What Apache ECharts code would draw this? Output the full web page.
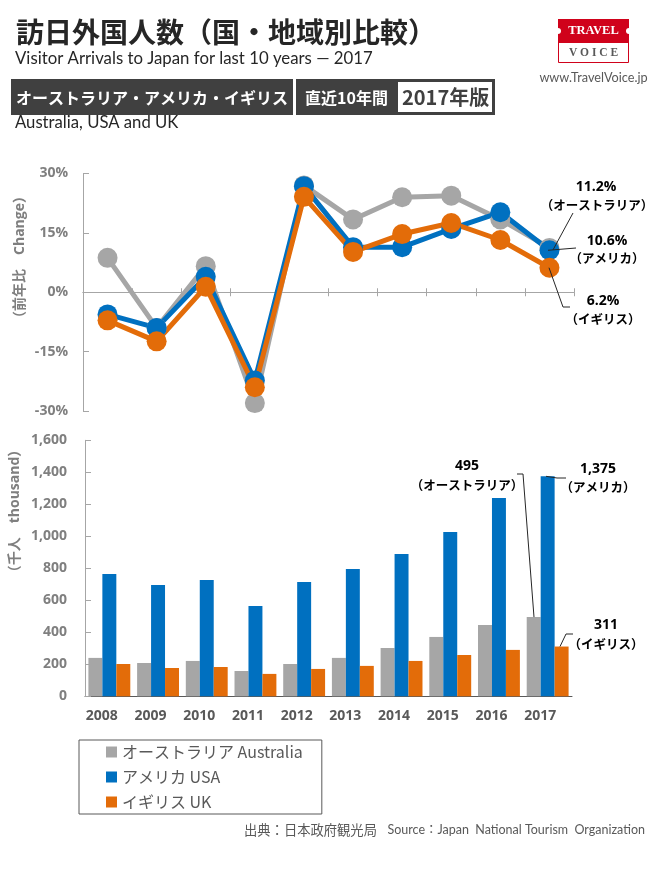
<!DOCTYPE html>
<html>
<head>
<meta charset="utf-8">
<style>
html,body{margin:0;padding:0;background:#fff;}
#main{width:659px;height:870px;}
</style>
<script src="https://cdn.jsdelivr.net/npm/echarts@6/dist/echarts.min.js"></script>
</head>
<body>
<div id="main"></div>
<script>
"use strict";
let years = ["2008","2009","2010","2011","2012","2013","2014","2015","2016","2017"];
let seriesNames = ["オーストラリア Australia","アメリカ USA","イギリス UK"];
/*前年比(%)*/
let changeAustralia = [8.7,-9,6.6,-28,27,18.4,24,24.4,18.4,11.2];
let changeUSA = [-5.6,-9,3.9,-22.3,26.8,11.4,11.4,16,20.2,10.6];
let changeUK = [-7.1,-12.4,1.4,-24,24.1,10.2,14.7,17.5,13.2,6.2];
/*人数(千人)*/
let arrivalsAustralia = [240,208,221,158,202,240,302,371,445,495];
let arrivalsUSA = [765,696,727,565,715,796,890,1027,1240,1375];
let arrivalsUK = [202,177,183,140,171,190,221,258,290,311];

let colors = ["#a6a6a6","#0070c0","#e36c09"];
let cjk = '"Noto Sans CJK JP"';
let latin = '"Open Sans","Noto Sans CJK JP"';

function lineSeries(name,data){
    return {
        name:name,
        type:"line",
        xAxisIndex:0,
        yAxisIndex:0,
        symbol:"circle",
        symbolSize:20,
        lineStyle:{width:5},
        data:data
    };
}
function barSeries(name,data){
    return {
        name:name,
        type:"bar",
        xAxisIndex:2,
        yAxisIndex:1,
        barGap:0,
        barCategoryGap:"14%",
        data:data
    };
}
//文字
function label(x,y,text,size,color,weight,font,align,rotation){
    return {
        type:"text",
        x:x,
        y:y,
        rotation:rotation || 0,
        z:20,
        style:{
            text:text,
            fontSize:size,
            fill:color,
            fontWeight:weight || "normal",
            fontFamily:font || cjk,
            align:align || "left",
            verticalAlign:"middle"
        }
    };
}
function box(x,y,w,h,fill,stroke){
    return {
        type:"rect",
        z:10,
        shape:{x:x,y:y,width:w,height:h},
        style:{fill:fill,stroke:stroke || null,lineWidth:stroke ? 1 : 0}
    };
}
//引き出し線
function leader(points){
    return {
        type:"polyline",
        z:15,
        shape:{points:points},
        style:{fill:null,stroke:"#262626",lineWidth:1}
    };
}

let chart = echarts.init(document.getElementById("main"));
let option = {
    animation:false,
    color:colors,
    textStyle:{fontFamily:cjk},
    legend:{
        left:79,
        top:740,
        orient:"vertical",
        icon:"rect",
        itemWidth:11,
        itemHeight:11,
        itemGap:9,
        itemTextGap:3,
        padding:[4,19,4,27],
        borderColor:"#595959",
        borderWidth:1,
        selectedMode:false,
        data:seriesNames,
        textStyle:{fontSize:16,color:"#595959",fontFamily:cjk}
    },
    grid:[
        {left:83,top:173.5,width:491,height:237.5},
        {left:85,top:440.3,width:487,height:256}
    ],
    xAxis:[
        {
            gridIndex:0,
            type:"category",
            data:years,
            axisLine:{onZero:true,lineStyle:{color:"#a6a6a6",width:1}},
            axisTick:{show:true,length:4,interval:0,lineStyle:{color:"#a6a6a6"}},
            axisLabel:{show:false}
        },
        {
            //目盛を軸の上側にも出す
            gridIndex:0,
            type:"category",
            data:years,
            position:"bottom",
            offset:-118.75,
            axisLine:{show:true,onZero:false,lineStyle:{color:"#a6a6a6",width:1}},
            axisTick:{show:true,inside:true,length:4,interval:0,lineStyle:{color:"#a6a6a6"}},
            axisLabel:{show:false}
        },
        {
            gridIndex:1,
            type:"category",
            data:years,
            axisLine:{lineStyle:{color:"#595959",width:1}},
            axisTick:{show:false},
            axisLabel:{
                interval:0,
                margin:13,
                padding:[0,15,0,0],
                fontSize:14,
                fontWeight:"bold",
                color:"#595959",
                fontFamily:latin
            }
        }
    ],
    yAxis:[
        {
            gridIndex:0,
            type:"value",
            min:-30,
            max:30,
            interval:15,
            splitLine:{show:false},
            axisLine:{show:true,lineStyle:{color:"#a6a6a6",width:1}},
            axisTick:{show:true,inside:true,length:6,lineStyle:{color:"#a6a6a6"}},
            axisLabel:{
                formatter:"{value}%",
                margin:15,
                fontSize:14,
                fontWeight:"bold",
                color:"#7f7f7f",
                fontFamily:latin
            }
        },
        {
            gridIndex:1,
            type:"value",
            min:0,
            max:1600,
            interval:200,
            splitLine:{show:false},
            axisLine:{show:true,lineStyle:{color:"#a6a6a6",width:1}},
            axisTick:{show:true,inside:true,length:6,lineStyle:{color:"#a6a6a6"}},
            axisLabel:{
                formatter:v=>v.toLocaleString("en-US"),
                margin:18,
                fontSize:14,
                fontWeight:"bold",
                color:"#7f7f7f",
                fontFamily:latin
            }
        }
    ],
    series:[
        lineSeries(seriesNames[0],changeAustralia),
        lineSeries(seriesNames[1],changeUSA),
        lineSeries(seriesNames[2],changeUK),
        barSeries(seriesNames[0],arrivalsAustralia),
        barSeries(seriesNames[1],arrivalsUSA),
        barSeries(seriesNames[2],arrivalsUK)
    ]
};
chart.setOption(option);

//最新年の値から引き出し線の起点を取る
let last = years.length - 1;
let changeY = arr=>chart.convertToPixel({yAxisIndex:0},arr[last]);
let barY = arr=>chart.convertToPixel({yAxisIndex:1},arr[last]);

chart.setOption({
    graphic:[
        //見出し
        label(16,32,"訪日外国人数（国・地域別比較）",28,"#262626","bold"),
        label(15,59,"Visitor Arrivals to Japan for last 10 years — 2017",16.8,"#262626","normal",'Lato'),
        box(11,79,282,36,"#404040"),
        box(296,79,199,36,"#404040"),
        box(398,82,94,30,"#ffffff"),
        label(16,98,"オーストラリア・アメリカ・イギリス",16,"#ffffff","bold"),
        label(305,98,"直近10年間",16,"#ffffff","bold"),
        label(402,97,"2017年版",20,"#404040","bold"),
        label(15,123,"Australia, USA and UK",16.7,"#262626","normal",'Lato'),

        //ロゴ
        box(558.5,19.5,70,43,"#ffffff","#d0021b"),
        box(558,19,71,24,"#d0021b"),
        {type:"circle",z:11,shape:{cx:558,cy:31,r:3},style:{fill:"#fff"}},
        {type:"circle",z:11,shape:{cx:629,cy:31,r:3},style:{fill:"#fff"}},
        label(593.5,31,"TRAVEL",12.5,"#ffffff","bold",'"Liberation Serif"',"center"),
        label(593.5,53,"V O I C E",11.5,"#595959","bold",'"Liberation Serif"',"center"),
        label(593.5,78,"www.TravelVoice.jp",12.7,"#595959","normal",'Lato',"center"),

        //軸タイトル
        label(20,257,"（前年比　Change）",14,"#7f7f7f","bold",latin,"center",Math.PI/2),
        label(15,511,"（千人　thousand）",14,"#7f7f7f","bold",latin,"center",Math.PI/2),

        //前年比の注記
        leader([[553,changeY(changeAustralia)+2],[573,213]]),
        leader([[548,changeY(changeUSA)],[576,248]]),
        leader([[549,changeY(changeUK)],[563,307],[570,307]]),
        label(596,187,"11.2%",14,"#000","bold",latin,"center"),
        label(597,205,"（オーストラリア）",12.5,"#000","bold",cjk,"center"),
        label(607,241,"10.6%",14,"#000","bold",latin,"center"),
        label(607,258,"（アメリカ）",12.5,"#000","bold",cjk,"center"),
        label(603,301,"6.2%",14,"#000","bold",latin,"center"),
        label(603,319,"（イギリス）",12.5,"#000","bold",cjk,"center"),

        //人数の注記
        leader([[534,barY(arrivalsAustralia)],[523,474],[517,474]]),
        leader([[546,barY(arrivalsUSA)],[557,478],[566,478]]),
        leader([[560,barY(arrivalsUK)],[566,634],[573,634]]),
        label(467,466,"495",14,"#000","bold",latin,"center"),
        label(467,485,"（オーストラリア）",12.5,"#000","bold",cjk,"center"),
        label(598,469,"1,375",14,"#000","bold",latin,"center"),
        label(598,487,"（アメリカ）",12.5,"#000","bold",cjk,"center"),
        label(606,625,"311",14,"#000","bold",latin,"center"),
        label(606,644,"（イギリス）",12.5,"#000","bold",cjk,"center"),

        //出典
        label(244,830,"出典：日本政府観光局",13.3,"#595959","normal",cjk),
        label(645,830,"Source：Japan  National Tourism  Organization",12.5,"#595959","normal",'Lato,"Noto Sans CJK JP"',"right")
    ]
});
</script>
</body>
</html>
